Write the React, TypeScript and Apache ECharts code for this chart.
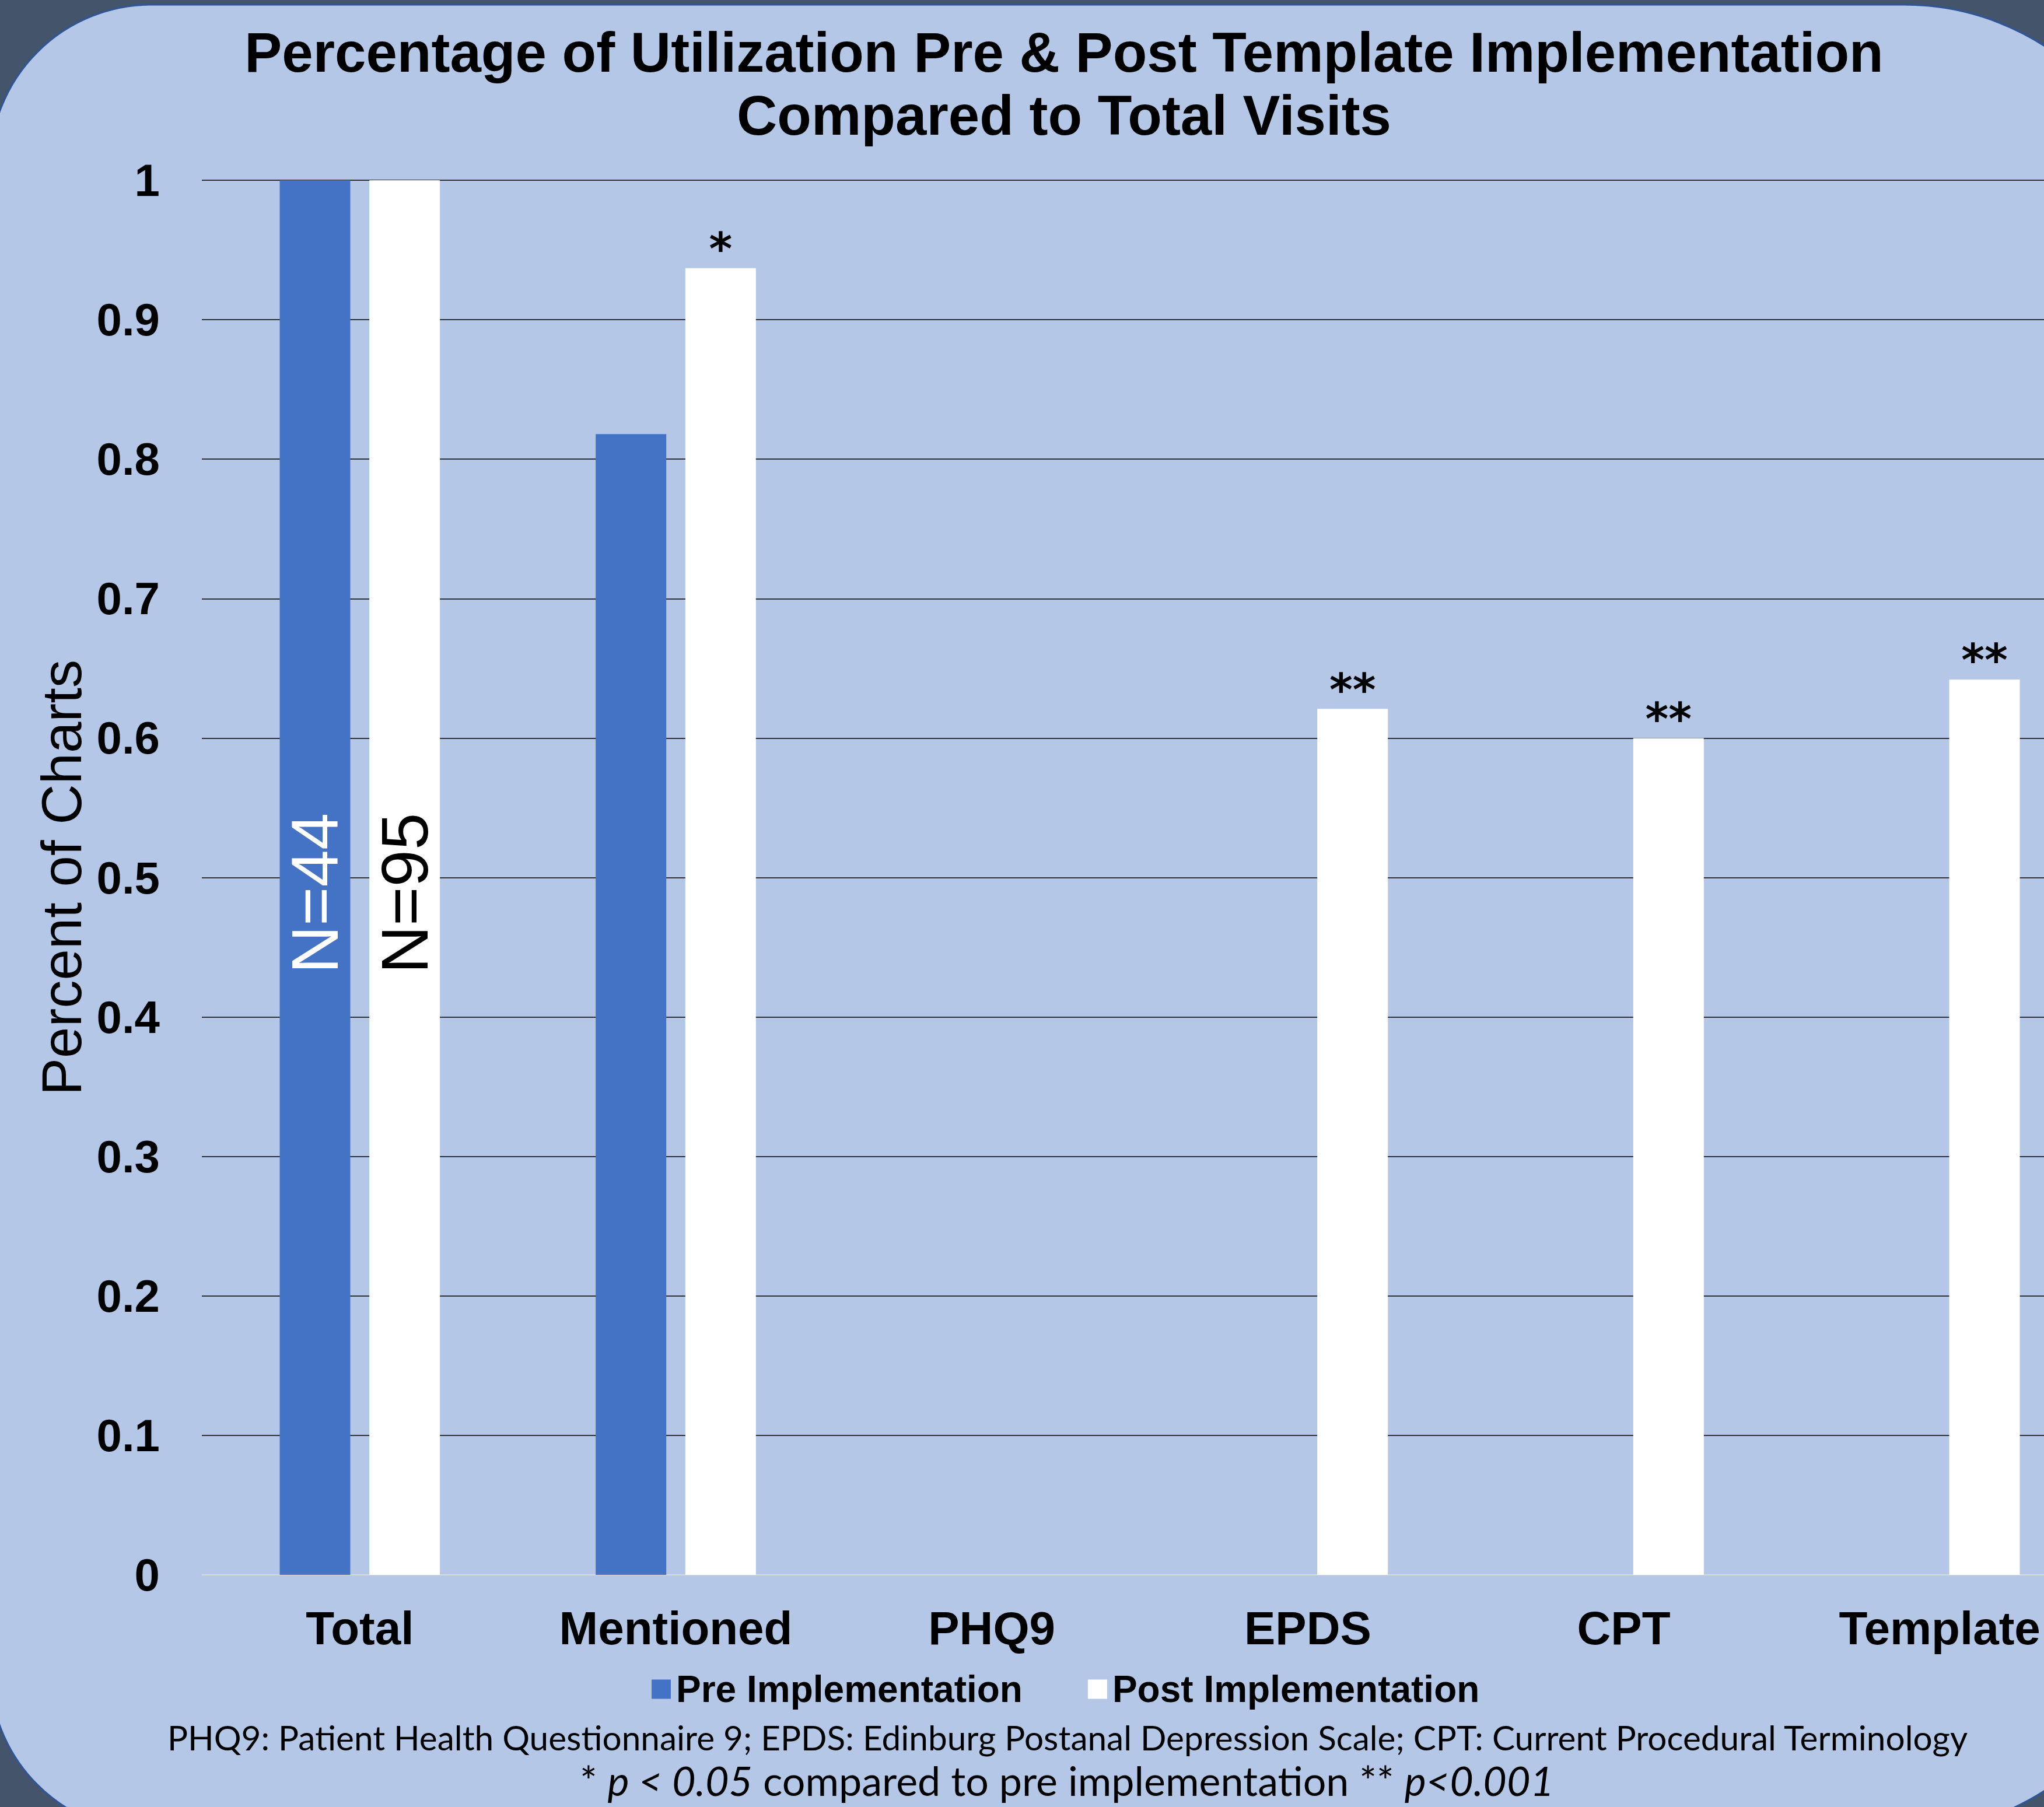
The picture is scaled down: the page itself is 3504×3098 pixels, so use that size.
import React, { useEffect, useRef } from 'react';
import * as echarts from 'echarts';

const categories = ['Total', 'Mentioned', 'PHQ9', 'EPDS', 'CPT', 'Template'];
const preValues = [1, 0.818, 0, 0, 0, 0];
const postValues = [1, 0.937, 0, 0.621, 0.6, 0.642];
const sampleSizes = ['N=44', 'N=95'];
const significance = ['', '*', '', '**', '**', '**'];
const seriesNames = ['Pre Implementation', 'Post Implementation'];
const titleText = 'Percentage of Utilization Pre & Post Template Implementation\nCompared to Total Visits';
const yAxisName = 'Percent of Charts';
const footnote1 = 'PHQ9: Patient Health Questionnaire 9; EPDS: Edinburg Postanal Depression Scale; CPT: Current Procedural Terminology';
const footnote2Parts = ['* ', 'p < 0.05', ' compared to pre implementation ** ', 'p<0.001'];

const ARIAL = '"Liberation Sans", Arial, sans-serif';
const CAL = 'Lato, "Open Sans", sans-serif';

export default function App() {
  const ref = useRef<HTMLDivElement>(null);

  useEffect(() => {
    if (!ref.current) return;
    const chart = echarts.init(ref.current, null, { renderer: 'svg' });

    const nLabel = (text: string, color: string) => ({
      show: true,
      position: 'inside',
      rotate: 90,
      formatter: text,
      color,
      fontSize: 114,
      fontFamily: ARIAL,
      fontWeight: 'normal',
      offset: [-27, 0],
    });

    const option: any = {
      animation: false,
      backgroundColor: '#44546A',
      title: {
        text: titleText,
        left: 1819,
        top: 30,
        textAlign: 'center',
        textStyle: {
          fontFamily: ARIAL,
          fontWeight: 'bold',
          fontSize: 96,
          lineHeight: 108,
          color: '#000',
        },
      },
      legend: {
        data: seriesNames,
        left: 1112,
        top: 2859,
        itemWidth: 33,
        itemHeight: 33,
        itemGap: 112,
        icon: 'rect',
        textStyle: {
          fontFamily: ARIAL,
          fontWeight: 'bold',
          fontSize: 64,
          color: '#000',
          padding: [0, 0, 0, 4],
        },
      },
      grid: {
        left: 346,
        right: -92,
        top: 309,
        bottom: 398,
        containLabel: false,
        outerBoundsMode: 'none',
      },
      xAxis: {
        type: 'category',
        data: categories,
        axisLine: { show: true, lineStyle: { color: '#D9D9D9', width: 2 } },
        axisTick: { show: false },
        axisLabel: {
          margin: 51,
          fontFamily: ARIAL,
          fontWeight: 'bold',
          fontSize: 80,
          color: '#000',
        },
      },
      yAxis: {
        type: 'value',
        min: 0,
        max: 1,
        interval: 0.1,
        name: yAxisName,
        nameLocation: 'middle',
        nameGap: 193,
        nameTextStyle: {
          fontFamily: ARIAL,
          fontWeight: 'normal',
          fontSize: 96,
          color: '#000',
        },
        axisLine: { show: false },
        axisTick: { show: false },
        splitLine: { show: true, lineStyle: { color: '#000', width: 1.5 } },
        axisLabel: {
          margin: 72,
          fontFamily: ARIAL,
          fontWeight: 'bold',
          fontSize: 78,
          color: '#000',
          formatter: (v: number) => String(Number(v.toFixed(1))),
        },
      },
      graphic: [
        {
          type: 'rect',
          z: -100,
          shape: { x: -17, y: 8, width: 3726, height: 3133, r: [277, 445, 445, 277] },
          style: { fill: '#B4C7E7', stroke: '#2F5597', lineWidth: 3 },
        },
        {
          type: 'text',
          x: 1830,
          y: 2978,
          style: {
            text: footnote1,
            fontFamily: CAL,
            fontSize: 58.5,
            fill: '#000',
            textAlign: 'center',
            textVerticalAlign: 'middle',
          },
        },
        {
          type: 'text',
          x: 1829,
          y: 3052,
          style: {
            text: footnote2Parts.map((t, i) => (i % 2 === 1 ? `{i|${t}}` : `{n|${t}}`)).join(''),
            fontFamily: CAL,
            fontSize: 70,
            lineHeight: 66,
            fill: '#000',
            textAlign: 'center',
            textVerticalAlign: 'middle',
            rich: {
              n: { fontFamily: CAL, fontSize: 70, lineHeight: 66, fill: '#000', color: '#000' },
              i: { fontFamily: CAL, fontSize: 70, lineHeight: 66, fontStyle: 'italic', fill: '#000', color: '#000' },
            },
          },
        },
      ],
      series: [
        {
          name: seriesNames[0],
          type: 'bar',
          barWidth: 121,
          barGap: '27%',
          itemStyle: { color: '#4472C4' },
          data: preValues.map((v, i) =>
            i === 0 ? { value: v, label: nLabel(sampleSizes[0], '#FFFFFF') } : v
          ),
        },
        {
          name: seriesNames[1],
          type: 'bar',
          barWidth: 121,
          barGap: '27%',
          itemStyle: { color: '#FFFFFF' },
          label: {
            show: true,
            position: 'top',
            distance: -5,
            fontFamily: '"DejaVu Sans", sans-serif',
            fontWeight: 'bold',
            fontSize: 76,
            color: '#000',
            formatter: (p: any) => significance[p.dataIndex] || '',
          },
          data: postValues.map((v, i) =>
            i === 0 ? { value: v, label: nLabel(sampleSizes[1], '#000000') } : v
          ),
        },
      ],
    };

    chart.setOption(option);
    return () => chart.dispose();
  }, []);

  return (
    <div
      ref={ref}
      style={{ position: 'absolute', left: 0, top: 0, width: 3504, height: 3098 }}
    />
  );
}
